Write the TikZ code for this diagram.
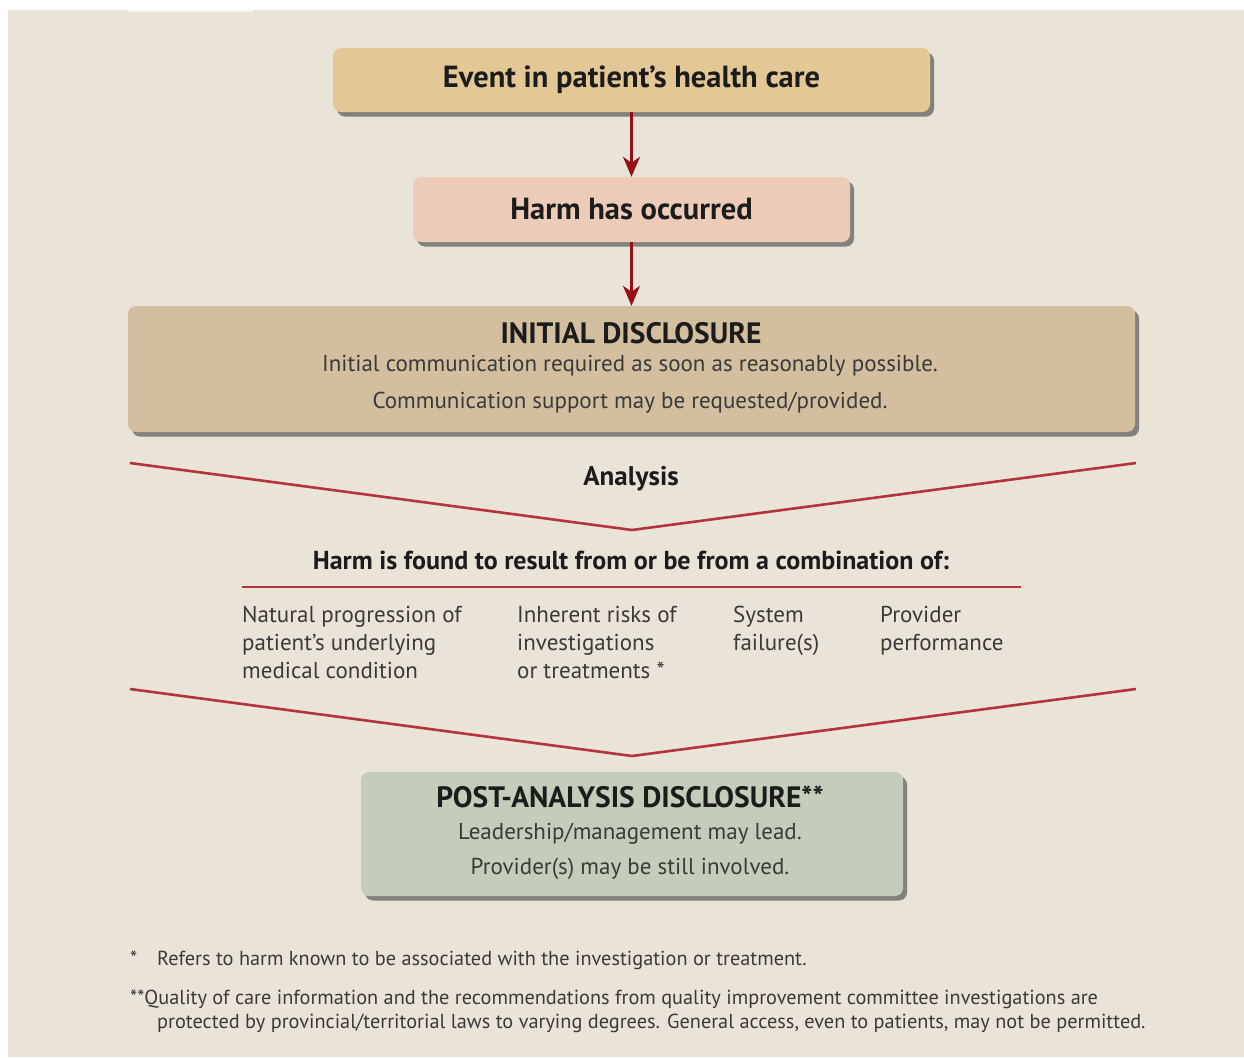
\documentclass[tikz,border=0pt]{standalone}
\usepackage{fontspec}
\setmainfont{PT Sans}
\usetikzlibrary{shadows,arrows.meta}
\definecolor{bg}{HTML}{EAE3D8}
\definecolor{evfill}{HTML}{E3C795}
\definecolor{harmfill}{HTML}{EDCBB9}
\definecolor{initfill}{HTML}{D3BE9F}
\definecolor{postfill}{HTML}{C4CDB9}
\definecolor{darkred}{HTML}{980F16}
\definecolor{linered}{HTML}{B3343A}
\definecolor{txt}{HTML}{1C1C1C}
\definecolor{bodytxt}{HTML}{3A3A3A}
\begin{document}
\begin{tikzpicture}[x=1pt,y=-1pt,
  box/.style={rounded corners=8pt, draw=none, inner sep=0pt,
    drop shadow={shadow xshift=4pt,shadow yshift=-4.5pt,fill=black!62,opacity=0.75}},
  headtxt/.style={text=txt, font=\bfseries\fontsize{30.5}{34}\selectfont},
  captxt/.style={text=txt, font=\bfseries\fontsize{29.5}{33}\selectfont},
  bodyline/.style={text=bodytxt, font=\fontsize{23}{27}\selectfont},
  subhead/.style={text=txt, font=\bfseries\fontsize{26}{30}\selectfont},
  coltxt/.style={text=bodytxt, font=\fontsize{23}{28}\selectfont, align=left, anchor=north west, inner sep=0pt},
  foot/.style={text=bodytxt, font=\fontsize{20.3}{24}\selectfont, anchor=base west, inner sep=0pt},
  arr/.style={draw=darkred, line width=2.6pt, -{Stealth[length=20pt,width=17pt,inset=6pt]}},
  chev/.style={draw=linered, line width=2.6pt},
  sepline/.style={draw=linered, line width=2.8pt}
]
\useasboundingbox (0,0) rectangle (1244,1057);
\fill[white] (0,0) rectangle (1244,1057);
\fill[bg] (8,10) rectangle (1244,1057);
\fill[white!60!bg] (128,10) rectangle (254,12.5);

% boxes
\node[box, fill=evfill, minimum width=597pt, minimum height=64pt, headtxt] (event) at (631.5,80) {Event in patient’s health care};
\node[box, fill=harmfill, minimum width=437pt, minimum height=65pt, headtxt] (harm) at (631.5,209.5) {Harm has occurred};
\node[box, fill=initfill, minimum width=1007pt, minimum height=126pt] (init) at (631.5,369) {};
\node[box, fill=postfill, minimum width=542pt, minimum height=124pt] (post) at (632,834) {};

% box texts
\node[captxt] (inittitle) at (631,333) {INITIAL DISCLOSURE};
\node[bodyline] (initl1) at (630,366) {Initial communication required as soon as reasonably possible.};
\node[bodyline] (initl2) at (630,403) {Communication support may be requested/provided.};
\node[captxt] (posttitle) at (630,797) {POST-ANALYSIS DISCLOSURE**};
\node[bodyline] (postl1) at (630,834) {Leadership/management may lead.};
\node[bodyline] (postl2) at (630,869) {Provider(s) may be still involved.};

% arrows
\draw[arr] (event.south) -- (harm.north);
\draw[arr] (harm.south) -- (init.north);

% chevrons
\coordinate (c1a) at (130,463);
\coordinate (c1b) at (632,530);
\coordinate (c1c) at (1136,463);
\draw[chev] (c1a) -- (c1b) -- (c1c);
\coordinate (c2a) at (130,689);
\coordinate (c2b) at (632,756);
\coordinate (c2c) at (1136,689);
\draw[chev] (c2a) -- (c2b) -- (c2c);

\node[subhead, font=\bfseries\fontsize{27}{30}\selectfont] (analysis) at (631,479) {Analysis};
\node[subhead] (found) at (631,560) {Harm is found to result from or be from a combination of:};
\coordinate (s1) at (242,587);
\coordinate (s2) at (1021,587);
\draw[sepline] (s1) -- (s2);

% columns
\node[coltxt] (col1) at (242,606) {Natural progression of\\patient’s underlying\\medical condition};
\node[coltxt] (col2) at (517,606) {Inherent risks of\\investigations\\or treatments *};
\node[coltxt] (col3) at (733,606) {System\\failure(s)};
\node[coltxt] (col4) at (880,606) {Provider\\performance};

% footnotes
\node[foot] (f1s) at (130,965) {*};
\node[foot] (f1) at (157,965) {Refers to harm known to be associated with the investigation or treatment.};
\node[foot] (f2a) at (130,1004) {**Quality of care information and the recommendations from quality improvement committee investigations are};
\node[foot] (f2b) at (157,1028) {protected by provincial/territorial laws to varying degrees. General access, even to patients, may not be permitted.};
\end{tikzpicture}
\end{document}
